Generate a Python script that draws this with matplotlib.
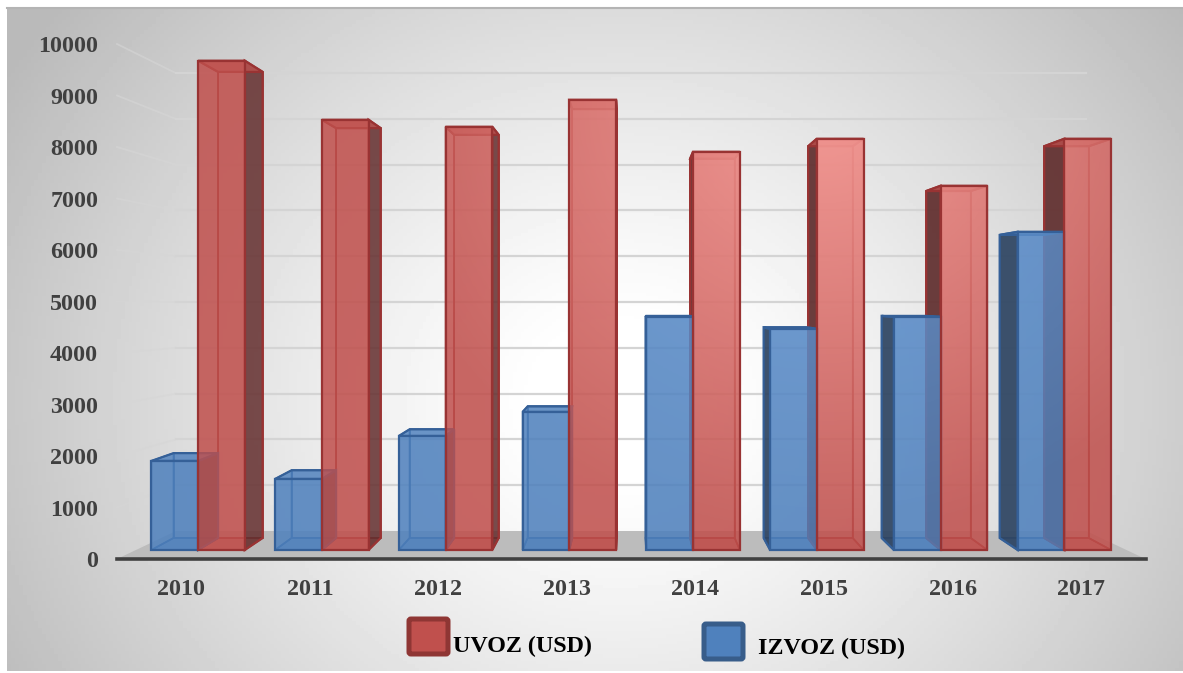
import numpy as np
import matplotlib
matplotlib.use('Agg')
import matplotlib.pyplot as plt
from matplotlib.patches import Polygon, FancyBboxPatch

years = ['2010', '2011', '2012', '2013', '2014', '2015', '2016', '2017']
uvoz = [10000, 8793, 8650, 9202, 8139, 8405, 7444, 8405]
izvoz = [1820, 1452, 2331, 2822, 4765, 4519, 4765, 6503]
y_ticks = [0, 1000, 2000, 3000, 4000, 5000, 6000, 7000, 8000, 9000, 10000]

W, H = 1183, 673
plt.rcParams['font.family'] = ['Liberation Serif', 'DejaVu Serif']
plt.rcParams['font.weight'] = 'bold'

# perspective: every depth plane shrinks towards the vanishing column VX
VX = 3.49
BAR_W = 0.3775
PLANES = {
    'wall': (0.885, 544, 0.889),
    'wall_front': (1.0, 0, 1.0),
    'bar_front': (0.9626, 175, 0.95),
    'bar_back': (0.918, 408, 0.905),
}


def proj(x, v, plane):
    kx, y0, ky = PLANES[plane]
    return VX + kx * (x - VX), y0 + ky * v


fig = plt.figure(figsize=(W / 100, H / 100), dpi=100)
fig.patch.set_facecolor('white')

# background gradient and legend live in a pixel sized axes
bg = fig.add_axes([0, 0, 1, 1], zorder=0)
bg.set_xlim(0, W)
bg.set_ylim(H, 0)
bg.axis('off')
xx, yy = np.meshgrid(np.linspace(7, W, 300), np.linspace(7, 671, 200))
r = np.sqrt(((xx - 620) / 640) ** 2 + ((yy - 400) / 560) ** 2)
shade = 1 - 0.27 * np.clip((r - 0.12) / 1.0, 0, 1) ** 1.2
bg.imshow(shade, cmap='gray', vmin=0, vmax=1, extent=(7, W, 671, 7), aspect='auto', zorder=0)
bg.plot([7, W], [7.5, 7.5], color='#b4b4b4', lw=1.5, zorder=1)
bg.set_xlim(0, W)
bg.set_ylim(H, 0)

legend_items = [('UVOZ (USD)', '#c0504d', '#8f3634', 409, 619, 453, 646),
                ('IZVOZ (USD)', '#4f81bd', '#385d8a', 704, 624, 758, 648)]
for label, fc, ec, sx, sy, tx, ty in legend_items:
    bg.add_patch(FancyBboxPatch((sx, sy), 39, 35, boxstyle='round,pad=0,rounding_size=2',
                                fc=fc, ec=ec, lw=3.6, zorder=2))
    bg.text(tx, ty, label, fontsize=17.3, color='black', va='center', ha='left', zorder=2)

# main axes: the front edge of the floor is the value/category plane
ax = fig.add_axes([117 / W, 1 - 559 / H, (1145.5 - 117) / W, (559 - 44) / H], zorder=1)
ax.patch.set_alpha(0)
ax.set_xlim(-0.5, 7.5)
ax.set_ylim(0, 10000)
ax.autoscale(False)
for s in ['top', 'left', 'right']:
    ax.spines[s].set_visible(False)
ax.spines['bottom'].set_linewidth(2.6)
ax.spines['bottom'].set_color('#404040')
ax.set_xticks(range(len(years)))
ax.set_xticklabels(years)
ax.set_yticks(y_ticks)
ax.tick_params(axis='x', length=0, pad=14.5, labelsize=17.3, labelcolor='#404040')
ax.tick_params(axis='y', length=0, pad=13.5, labelsize=17.3, labelcolor='#404040')


def face(points, fc, alpha, ec, z, lw=1.6):
    rgba = matplotlib.colors.to_rgba(fc, alpha)
    p = Polygon(points, closed=True, fc=rgba, ec=ec, lw=lw, zorder=z, clip_on=False, joinstyle='miter')
    ax.add_patch(p)
    return p


# floor
lo, hi = -0.5, 7.5
face([proj(lo, 0, 'wall_front'), proj(hi, 0, 'wall_front'), proj(hi, 0, 'wall'), proj(lo, 0, 'wall')],
     '#bcbcbc', 1, 'none', 1, lw=0)

# walls gridlines
for v in y_ticks[1:]:
    x0, y0 = proj(lo, v, 'wall_front')
    x1, y1 = proj(lo, v, 'wall')
    x2, y2 = proj(hi, v, 'wall')
    ax.plot([x0, x1], [y0, y1], color='#d6d6d6', lw=1.3, alpha=0.6, zorder=1.2, clip_on=False)
    ax.plot([x1, x2], [y1, y2], color='#d4d4d4', lw=1.6, zorder=1.2, clip_on=False)

# highlight that brightens the bars towards the upper right centre
hx, hy = np.meshgrid(np.linspace(-0.5, 7.5, 200), np.linspace(0, 10000, 200))
dist = np.sqrt(((hx - 5.0) / 3.6) ** 2 + ((hy - 8800) / 8500) ** 2)
glow = np.clip(1 - dist, 0, 1) ** 1.1


def add_glow(patch, rgb, strength):
    img = np.zeros(glow.shape + (4,))
    img[..., 0], img[..., 1], img[..., 2] = rgb
    img[..., 3] = glow * strength
    im = ax.imshow(img, extent=(-0.5, 7.5, 0, 10000), origin='lower', aspect='auto', zorder=patch.get_zorder() + 0.01)
    im.set_clip_path(patch)


def bar3d(x0, x1, v, fc, ec, dark, glow_rgb, glow_a):
    f = [proj(x0, 0, 'bar_front'), proj(x1, 0, 'bar_front'), proj(x1, v, 'bar_front'), proj(x0, v, 'bar_front')]
    b = [proj(x0, 0, 'bar_back'), proj(x1, 0, 'bar_back'), proj(x1, v, 'bar_back'), proj(x0, v, 'bar_back')]
    face(b, fc, 0.35, ec, 2, lw=1.2)
    face([f[0], f[1], b[1], b[0]], fc, 0.6, ec, 2.1, lw=1.2)
    left = [f[0], b[0], b[3], f[3]]
    right = [f[1], b[1], b[2], f[2]]
    if b[0][0] < f[0][0]:
        face(left, dark, 0.9, ec, 3)
    else:
        face(left, fc, 0.3, ec, 2.2, lw=1.2)
    if b[1][0] > f[1][0]:
        face(right, dark, 0.8, ec, 3)
    else:
        face(right, fc, 0.3, ec, 2.2, lw=1.2)
    face([f[3], f[2], b[2], b[3]], fc, 0.75, ec, 3.1)
    p = face(f, fc, 0.8, 'none', 4, lw=0)
    add_glow(p, glow_rgb, glow_a)
    face(f, fc, 0, ec, 4.5)


red_glow = (1.0, 0.66, 0.64)
blue_glow = (0.52, 0.70, 0.92)
for i in range(len(years)):
    bar3d(i - BAR_W, i, izvoz[i], '#4f81bd', '#356098', '#2f4460', blue_glow, 0.5)
    bar3d(i, i + BAR_W, uvoz[i], '#c0504d', '#993333', '#5e2f2f', red_glow, 0.8)

fig.savefig('out.png', dpi=100)
